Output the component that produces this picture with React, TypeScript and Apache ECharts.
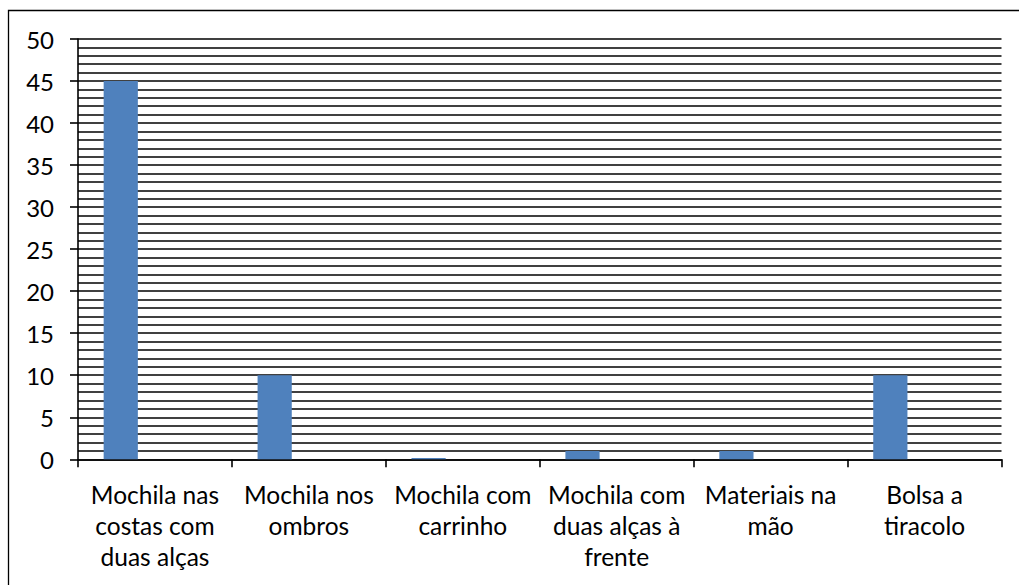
import React, { useEffect, useRef } from "react";
import * as echarts from "echarts";

// Categories and counts
const categories: string[] = [
  "Mochila nas\ncostas com\nduas alças",
  "Mochila nos\nombros",
  "Mochila com\ncarrinho",
  "Mochila com\nduas alças à\nfrente",
  "Materiais na\nmão",
  "Bolsa a\ntiracolo",
];
const values: number[] = [45, 10, 0.15, 1, 1, 10];
// Two further series of the clustered layout carry no values
const emptyValues: (number | null)[] = [null, null, null, null, null, null];

const FONT = "Lato, 'Liberation Sans', sans-serif";

export default function App() {
  const ref = useRef<HTMLDivElement>(null);

  useEffect(() => {
    if (!ref.current) return;
    const chart = echarts.init(ref.current, null, { renderer: "svg" });
    chart.setOption({
      animation: false,
      backgroundColor: "#ffffff",
      graphic: [
        {
          type: "rect",
          shape: { x: 8.5, y: 10.5, width: 1100, height: 1000 },
          style: { fill: "none", stroke: "#000", lineWidth: 1.3 },
          silent: true,
        },
      ],
      grid: { left: 78, right: 17.5, top: 39, bottom: 125.7, containLabel: false },
      xAxis: {
        type: "category",
        data: categories,
        boundaryGap: true,
        axisLine: { show: true, lineStyle: { color: "#000", width: 1.6 } },
        axisTick: { show: true, length: 8, alignWithLabel: false, lineStyle: { color: "#000", width: 1.6 } },
        axisLabel: {
          interval: 0,
          margin: 20,
          color: "#000",
          fontFamily: FONT,
          fontSize: 24.5,
          lineHeight: 31,
          align: "center",
        },
        splitLine: { show: false },
      },
      yAxis: {
        type: "value",
        min: 0,
        max: 50,
        interval: 5,
        axisLine: { show: true, lineStyle: { color: "#000", width: 1.6 } },
        axisTick: { show: true, length: 8, lineStyle: { color: "#000", width: 1.6 } },
        axisLabel: { margin: 24, color: "#000", fontFamily: FONT, fontSize: 24 },
        splitLine: { show: true, lineStyle: { color: "#000", width: 1.6 } },
        minorTick: { show: false, splitNumber: 5 },
        minorSplitLine: { show: true, lineStyle: { color: "#000", width: 1.6 } },
      },
      series: [
        {
          name: "Série 1",
          type: "bar",
          data: values,
          barGap: "0%",
          barCategoryGap: "33.333%",
          itemStyle: { color: "#4F81BD" },
        },
        {
          name: "Série 2",
          type: "bar",
          data: emptyValues,
          itemStyle: { color: "#C0504D" },
        },
        {
          name: "Série 3",
          type: "bar",
          data: emptyValues,
          itemStyle: { color: "#9BBB59" },
        },
      ],
    });
    return () => chart.dispose();
  }, []);

  return (
    <div
      ref={ref}
      style={{ position: "fixed", left: 0, top: 0, width: 1019, height: 585 }}
    />
  );
}
